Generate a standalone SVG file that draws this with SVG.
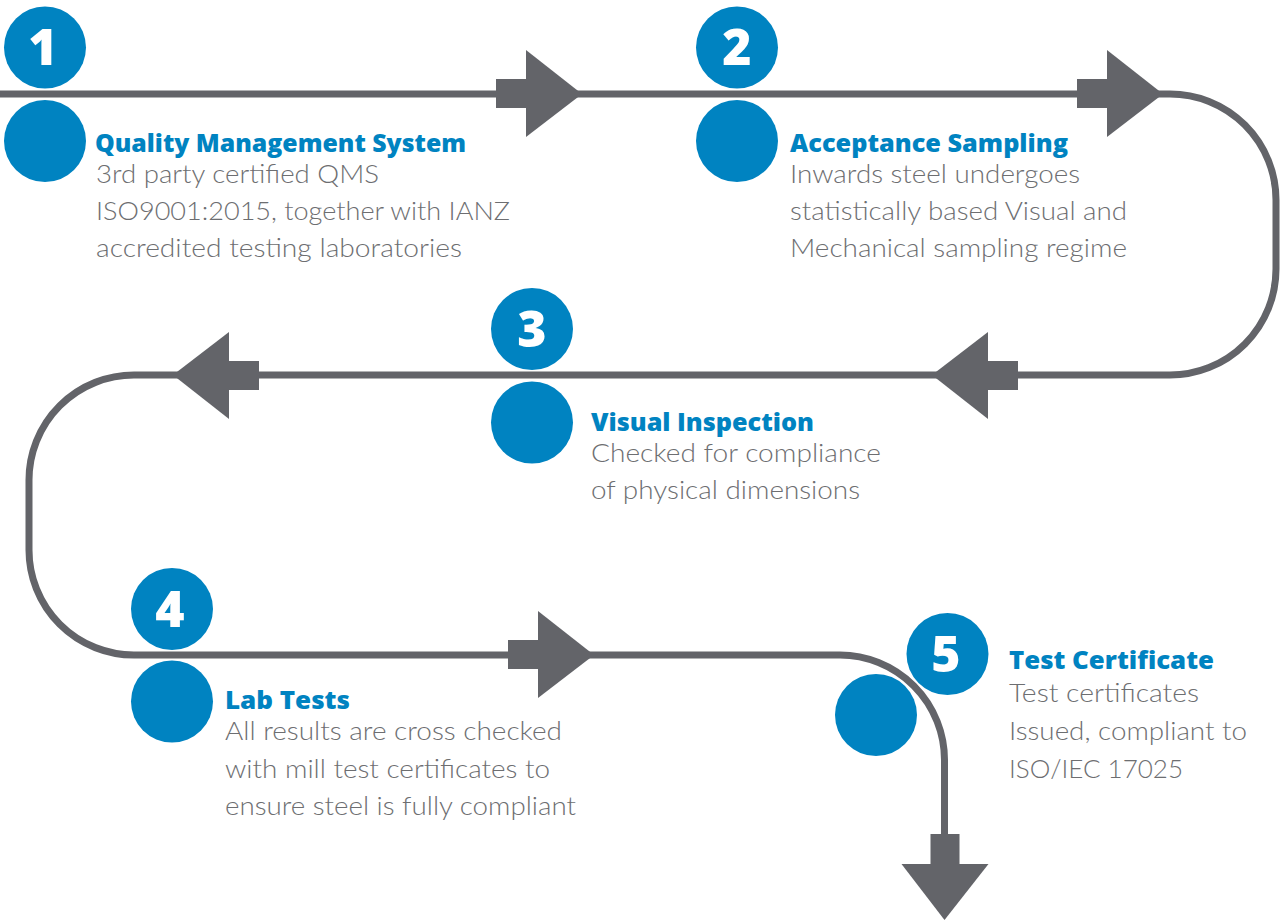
<svg xmlns="http://www.w3.org/2000/svg" xmlns:xlink="http://www.w3.org/1999/xlink" width="1283" height="922" viewBox="0 0 1283 922">
<style>
.dot{fill:#0083c1}
.num{fill:#ffffff;font-family:"Open Sans","DejaVu Sans",sans-serif;font-weight:800;font-size:50px;text-anchor:middle}
.hd{fill:#0083c1;font-family:"Open Sans","Liberation Sans",sans-serif;font-weight:800;font-size:24px}
.tx{fill:#6d6e71;font-family:Lato,"Open Sans","Liberation Sans",sans-serif;font-weight:300;font-size:25px}
.ln{fill:none;stroke:#636469;stroke-width:7}
.ah{fill:#636469}
</style>
<defs>
<g id="arr">
<rect x="-86" y="-15" width="31" height="29"/>
<polygon points="-56,-44 0,0 -56,43"/>
</g>
</defs>
<rect width="1283" height="922" fill="#ffffff"/>
<g id="connectors">
<path class="ln" d="M0,94 H1170 A106,106 0 0 1 1276,200 V269 A106,106 0 0 1 1170,375 H134 A105,105 0 0 0 29,480 V550 A105,105 0 0 0 134,655 H840 A105,105 0 0 1 944.5,760 V860"/>
<use xlink:href="#arr" class="ah" transform="translate(582,94)"/>
<use xlink:href="#arr" class="ah" transform="translate(1163,94)"/>
<use xlink:href="#arr" class="ah" transform="translate(932,375) rotate(180)"/>
<use xlink:href="#arr" class="ah" transform="translate(173,375) rotate(180)"/>
<use xlink:href="#arr" class="ah" transform="translate(594,655)"/>
<use xlink:href="#arr" class="ah" transform="translate(944.5,920) rotate(90)"/>
</g>
<g id="step1">
<circle class="dot" cx="45" cy="47.5" r="41"/>
<text class="num" x="43" y="65">1</text>
<circle class="dot" cx="45" cy="141" r="41"/>
<text class="hd" x="95" y="152" textLength="371" lengthAdjust="spacingAndGlyphs">Quality Management System</text>
<text class="tx" x="96" y="183" textLength="283" lengthAdjust="spacingAndGlyphs">3rd party certified QMS</text>
<text class="tx" x="96" y="220" textLength="414" lengthAdjust="spacingAndGlyphs">ISO9001:2015, together with IANZ</text>
<text class="tx" x="96" y="257" textLength="366" lengthAdjust="spacingAndGlyphs">accredited testing laboratories</text>
</g>
<g id="step2">
<circle class="dot" cx="737" cy="47.5" r="41"/>
<text class="num" x="737" y="65">2</text>
<circle class="dot" cx="737" cy="141" r="41"/>
<text class="hd" x="790" y="152" textLength="278" lengthAdjust="spacingAndGlyphs">Acceptance Sampling</text>
<text class="tx" x="790" y="183" textLength="290" lengthAdjust="spacingAndGlyphs">Inwards steel undergoes</text>
<text class="tx" x="790" y="220" textLength="337" lengthAdjust="spacingAndGlyphs">statistically based Visual and</text>
<text class="tx" x="790" y="257" textLength="337" lengthAdjust="spacingAndGlyphs">Mechanical sampling regime</text>
</g>
<g id="step3">
<circle class="dot" cx="532" cy="329" r="41"/>
<text class="num" x="532" y="347">3</text>
<circle class="dot" cx="532" cy="422.5" r="41"/>
<text class="hd" x="591" y="431" textLength="223" lengthAdjust="spacingAndGlyphs">Visual Inspection</text>
<text class="tx" x="591" y="462" textLength="290" lengthAdjust="spacingAndGlyphs">Checked for compliance</text>
<text class="tx" x="591" y="499" textLength="269" lengthAdjust="spacingAndGlyphs">of physical dimensions</text>
</g>
<g id="step4">
<circle class="dot" cx="172" cy="609" r="41"/>
<text class="num" x="170" y="627">4</text>
<circle class="dot" cx="172" cy="701.5" r="41"/>
<text class="hd" x="225" y="709" textLength="125" lengthAdjust="spacingAndGlyphs">Lab Tests</text>
<text class="tx" x="225" y="740" textLength="337" lengthAdjust="spacingAndGlyphs">All results are cross checked</text>
<text class="tx" x="225" y="778" textLength="325" lengthAdjust="spacingAndGlyphs">with mill test certificates to</text>
<text class="tx" x="225" y="815" textLength="351" lengthAdjust="spacingAndGlyphs">ensure steel is fully compliant</text>
</g>
<g id="step5">
<circle class="dot" cx="876" cy="715" r="41"/>
<circle class="dot" cx="947.5" cy="654" r="41"/>
<text class="num" x="946" y="672">5</text>
<text class="hd" x="1009" y="669" textLength="205" lengthAdjust="spacingAndGlyphs">Test Certificate</text>
<text class="tx" x="1009" y="702" textLength="190" lengthAdjust="spacingAndGlyphs">Test certificates</text>
<text class="tx" x="1009" y="740" textLength="238" lengthAdjust="spacingAndGlyphs">Issued, compliant to</text>
<text class="tx" x="1009" y="778" textLength="174" lengthAdjust="spacingAndGlyphs">ISO/IEC 17025</text>
</g>
</svg>
